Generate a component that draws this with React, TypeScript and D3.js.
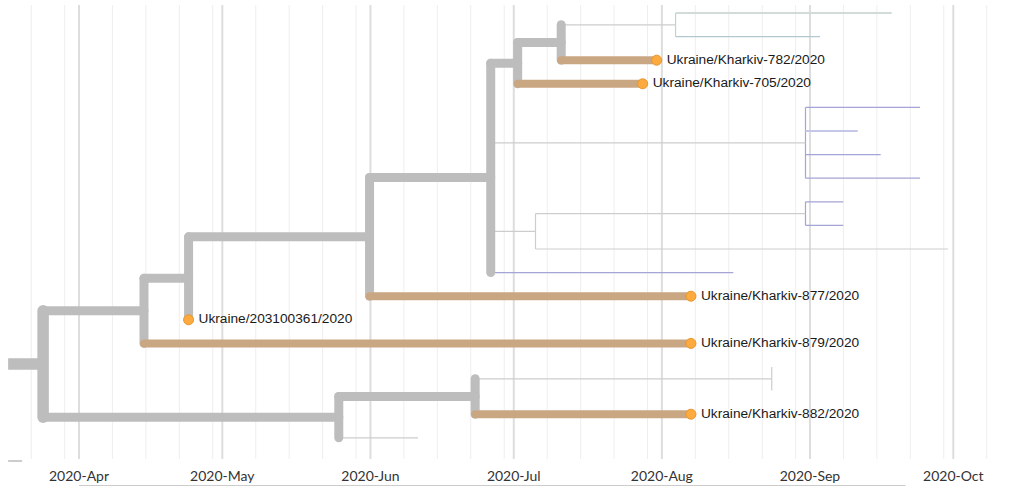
import * as d3 from "d3";
import { useEffect, useRef } from "react";

const WIDTH = 1018;
const HEIGHT = 491;
// time axis anchors (two month lines) and vertical tip range
const X_ANCHOR = { from: new Date(2020, 3, 1), to: new Date(2020, 9, 1), left: 79, right: 953.3 };
const TIP_Y = { top: 13, bottom: 437.8 };
const GRID = { top: 5, bottom: 459, left: 10, right: 1010 };
const AXIS_LABEL_Y = 481;

// tree, in pre-order (children listed top to bottom)
const NODE_IDS = [
  "root", "A", "B", "C", "D", "E", "F", "G", "H", "H1", "H2", "T782", "T705",
  "I", "I1", "I2", "I3", "I4", "J", "K", "K1", "K2", "J2", "E4", "T877",
  "T361", "T879", "L", "M", "N", "N1", "N2", "T882", "L2",
];
const NODE_PARENTS = [
  "", "root", "A", "B", "C", "D", "E", "F", "G", "H", "H", "G", "F",
  "E", "I", "I", "I", "I", "E", "J", "K", "K", "J", "E", "D",
  "C", "B", "A", "L", "M", "N", "N", "M", "L",
];
// decimal year of each node
const NODE_DATES = [
  2020.2081, 2020.2281, 2020.2858, 2020.3113, 2020.4148, 2020.4841, 2020.4995, 2020.5244, 2020.5898, 2020.7134, 2020.6724, 2020.579, 2020.571,
  2020.6641, 2020.7296, 2020.694, 2020.7071, 2020.7296, 2020.5097, 2020.6641, 2020.6857, 2020.6857, 2020.7456, 2020.6228, 2020.5986,
  2020.3113, 2020.5986, 2020.3972, 2020.4752, 2020.6448, 2020.6448, 2020.6448, 2020.5986, 2020.4425,
];
const NODE_CLADES = [
  "19A", "19A", "19A", "19A", "19A", "19A", "19A", "19A", "19A", "20D", "20C", "UA", "UA",
  "19A", "20B", "20E", "20B", "20B", "19A", "19A", "20B", "20B", "19A", "20B", "UA",
  "UA", "UA", "19A", "19A", "19A", "19A", "19A", "UA", "19A",
];
const TIP_NAMES: Record<string, string> = {
  T782: "Ukraine/Kharkiv-782/2020",
  T705: "Ukraine/Kharkiv-705/2020",
  T877: "Ukraine/Kharkiv-877/2020",
  T361: "Ukraine/203100361/2020",
  T879: "Ukraine/Kharkiv-879/2020",
  T882: "Ukraine/Kharkiv-882/2020",
};

const THIN_COLORS: Record<string, string> = {
  "19A": "#cdcdcd",
  "20B": "#a4a4d6",
  "20C": "#b3c7cf",
  "20D": "#d3dbd7",
  "20E": "#c6c6e9",
};
const TRUNK_COLOR = "#bdbdbd";
const FOCUS_COLOR = "#caa783";
const TIP_FILL = "#fdab3f";
const TIP_STROKE = "#e8962d";

interface TreeNode {
  id: string;
  parent?: TreeNode;
  children: TreeNode[];
  date: Date;
  clade: string;
  x: number;
  y: number;
  focus: boolean;
}

const numDate = (n: number) => {
  const year = Math.floor(n);
  const a = new Date(year, 0, 1).getTime();
  const b = new Date(year + 1, 0, 1).getTime();
  return new Date(a + (n - year) * (b - a));
};

export default function App() {
  const svgRef = useRef<SVGSVGElement>(null);

  useEffect(() => {
    if (!svgRef.current) return;

    const x = d3
      .scaleTime()
      .domain([X_ANCHOR.from, X_ANCHOR.to])
      .range([X_ANCHOR.left, X_ANCHOR.right]);

    // build nodes
    const byId = new Map<string, TreeNode>();
    const nodes: TreeNode[] = NODE_IDS.map((id, i) => {
      const n: TreeNode = {
        id,
        children: [],
        date: numDate(NODE_DATES[i]),
        clade: NODE_CLADES[i],
        x: 0,
        y: 0,
        focus: false,
      };
      byId.set(id, n);
      return n;
    });
    NODE_PARENTS.forEach((p, i) => {
      if (!p) return;
      const parent = byId.get(p)!;
      nodes[i].parent = parent;
      parent.children.push(nodes[i]);
    });
    const root = nodes[0];

    const tips = nodes.filter((n) => n.children.length === 0);
    const y = d3
      .scaleLinear()
      .domain([0, tips.length - 1])
      .range([TIP_Y.top, TIP_Y.bottom]);
    tips.forEach((t, i) => {
      t.y = y(i);
      t.focus = t.id in TIP_NAMES;
    });

    // post-order: y = mean of children, focus if any child focus
    const post = (n: TreeNode) => {
      n.x = x(n.date);
      if (!n.children.length) return;
      n.children.forEach(post);
      n.y = d3.mean(n.children, (c) => c.y)!;
      n.focus = n.children.some((c) => c.focus);
    };
    post(root);

    const svg = d3.select(svgRef.current);
    svg.selectAll("*").remove();
    svg.attr("width", WIDTH).attr("height", HEIGHT);

    // grid
    const minor = d3
      .timeDay.range(new Date(2020, 2, 1), new Date(2020, 10, 1))
      .filter((d) => [8, 15, 22, 29].includes(d.getDate()))
      .filter((d) => x(d) > GRID.left && x(d) < GRID.right);
    const major = d3
      .timeMonth.range(new Date(2020, 2, 1), new Date(2020, 10, 1))
      .filter((d) => x(d) > GRID.left && x(d) < GRID.right);

    const grid = svg.append("g");
    grid
      .selectAll("line.minor")
      .data(minor)
      .join("line")
      .attr("x1", (d) => x(d))
      .attr("x2", (d) => x(d))
      .attr("y1", GRID.top)
      .attr("y2", GRID.bottom)
      .attr("stroke", "#eeeeee")
      .attr("stroke-width", 1);
    grid
      .selectAll("line.major")
      .data(major)
      .join("line")
      .attr("x1", (d) => x(d))
      .attr("x2", (d) => x(d))
      .attr("y1", GRID.top)
      .attr("y2", GRID.bottom)
      .attr("stroke", "#dddddd")
      .attr("stroke-width", 2);

    svg
      .append("g")
      .selectAll("text")
      .data(major)
      .join("text")
      .attr("x", (d) => x(d))
      .attr("y", AXIS_LABEL_Y)
      .attr("text-anchor", "middle")
      .attr("font-family", "Lato, 'Open Sans', sans-serif")
      .attr("font-size", 14)
      .attr("fill", "#333")
      .text((d) => d3.timeFormat("%Y-%b")(d));

    // small decorations along the bottom
    svg
      .append("line")
      .attr("x1", x(X_ANCHOR.from))
      .attr("x2", x(new Date(2020, 8, 21)))
      .attr("y1", 485.5)
      .attr("y2", 485.5)
      .attr("stroke", "#cccccc")
      .attr("stroke-width", 1);
    svg
      .append("line")
      .attr("x1", root.x)
      .attr("x2", root.x + 14)
      .attr("y1", 461)
      .attr("y2", 461)
      .attr("stroke", "#cccccc")
      .attr("stroke-width", 2);

    const widthOf = (n: TreeNode) => {
      if (!n.focus) return n.clade === "20E" || n.clade === "20D" ? 1.8 : 1.2;
      if (!n.children.length) return 8;
      const count = tips.filter((t) => {
        let p: TreeNode | undefined = t;
        while (p && p !== n) p = p.parent;
        return p === n && t.focus;
      }).length;
      return count >= 6 ? 11.5 : 9;
    };
    const colorOf = (n: TreeNode) => {
      if (n.focus) return n.children.length ? TRUNK_COLOR : FOCUS_COLOR;
      return THIN_COLORS[n.clade];
    };

    const branchNodes = nodes.filter((n) => n.parent);
    const layers = [
      branchNodes.filter((n) => !n.focus),
      branchNodes.filter((n) => n.focus && n.children.length),
      branchNodes.filter((n) => n.focus && !n.children.length),
    ];
    const internalByLayer = [
      nodes.filter((n) => n.children.length && !n.focus),
      nodes.filter((n) => n.children.length && n.focus && n.parent),
    ];

    const tree = svg.append("g").attr("fill", "none");
    layers.forEach((layer, li) => {
      // verticals
      if (li < 2) {
        tree
          .append("g")
          .selectAll("path")
          .data(internalByLayer[li])
          .join("path")
          .attr("d", (n) => {
            const ys = n.children.map((c) => c.y);
            return `M${n.x},${d3.min(ys)}L${n.x},${d3.max(ys)}`;
          })
          .attr("stroke", (n) =>
            n.focus
              ? TRUNK_COLOR
              : d3.interpolateRgb(colorOf(n.children[0]), colorOf(n.children[n.children.length - 1]))(0.5)
          )
          .attr("stroke-width", (n) => (n.focus ? widthOf(n) : 1.2))
          .attr("stroke-linecap", (n) => (n.focus ? "round" : "butt"));
      }
      // horizontals
      tree
        .append("g")
        .selectAll("path")
        .data(layer)
        .join("path")
        .attr("d", (n) => `M${n.parent!.x},${n.y}L${n.x},${n.y}`)
        .attr("stroke", (n) => colorOf(n))
        .attr("stroke-width", (n) => widthOf(n))
        .attr("stroke-linecap", (n) =>
          n.focus && n.parent !== root ? "round" : "butt"
        );
    });

    const focusTips = tips.filter((t) => t.focus);
    svg
      .append("g")
      .selectAll("circle")
      .data(focusTips)
      .join("circle")
      .attr("cx", (t) => t.x)
      .attr("cy", (t) => t.y)
      .attr("r", 5)
      .attr("fill", TIP_FILL)
      .attr("stroke", TIP_STROKE)
      .attr("stroke-width", 1);

    svg
      .append("g")
      .selectAll("text")
      .data(focusTips)
      .join("text")
      .attr("x", (t) => t.x + 10)
      .attr("y", (t) => t.y + 3.5)
      .attr("font-family", "'Liberation Sans', Arial, sans-serif")
      .attr("font-size", 13.7)
      .attr("fill", "#1a1a1a")
      .text((t) => TIP_NAMES[t.id]);
  }, []);

  return (
    <>
      <style>{`body{margin:0}`}</style>
      <svg ref={svgRef} style={{ display: "block" }}></svg>
    </>
  );
}
